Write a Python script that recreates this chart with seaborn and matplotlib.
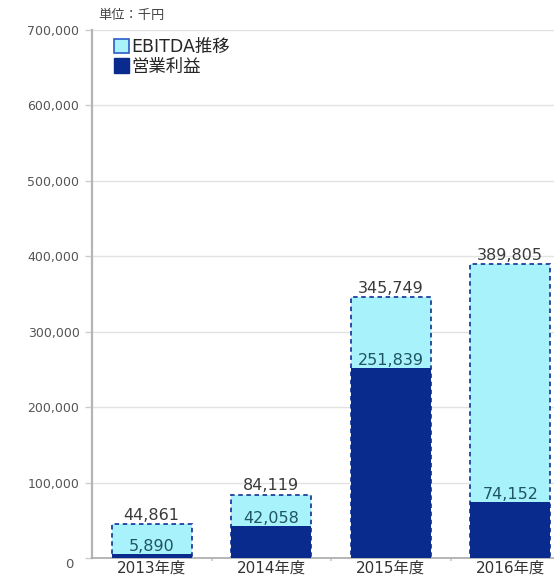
import matplotlib
matplotlib.use("Agg")
import matplotlib.pyplot as plt
from matplotlib.patches import Patch
import pandas as pd
import seaborn as sns

# Fiscal years and values (unit: thousand yen)
years = ["2013年度", "2014年度", "2015年度", "2016年度"]
ebitda = [44861, 84119, 345749, 389805]
operating_profit = [5890, 42058, 251839, 74152]
y_ticks = [0, 100000, 200000, 300000, 400000, 500000, 600000, 700000]

sns.set_theme(style="white")
plt.rcParams["font.family"] = ["DejaVu Sans", "Noto Sans CJK JP"]

CYAN = "#a8f2fc"
NAVY = "#0a2b8e"
EDGE = "#1d3f9e"

df = pd.DataFrame({"year": years, "ebitda": ebitda, "op": operating_profit})

fig = plt.figure(figsize=(5.54, 5.80), dpi=100)
ax = fig.add_axes([92 / 554, 1 - 558 / 580, 478 / 554, 528 / 580])

# EBITDA bars (light fill, dashed outline)
sns.barplot(data=df, x="year", y="ebitda", color=CYAN, saturation=1,
            width=0.67, errorbar=None, ax=ax,
            edgecolor=EDGE, linewidth=1.3, linestyle=(0, (2.5, 2)), zorder=2)
# Operating profit bars drawn over them
sns.barplot(data=df, x="year", y="op", color=NAVY, saturation=1,
            width=0.67, errorbar=None, ax=ax, linewidth=0, zorder=3)

ax.set_xlim(-0.5, 3.5)
ax.set_ylim(0, 700000)
ax.set_xlabel("")
ax.set_ylabel("")

# Value labels
for i, (e, o) in enumerate(zip(ebitda, operating_profit)):
    ax.annotate(f"{e:,}", xy=(i, e), xytext=(0, 1), textcoords="offset points",
                ha="center", va="bottom", fontsize=11.5, color="#3a3a3a", zorder=5)
    ax.annotate(f"{o:,}", xy=(i, o), xytext=(0, 0), textcoords="offset points",
                ha="center", va="bottom", fontsize=11.5, color="#1f5560", zorder=5)

# Axes styling
ax.set_yticks(y_ticks)
ax.set_yticklabels([""] + [f"{v:,}" for v in y_ticks[1:]])
ax.annotate("0", xy=(0, 0), xycoords=("axes fraction", "data"),
            xytext=(-16, -5), textcoords="offset points",
            ha="center", va="center", fontsize=9.5, color="#555555")
ax.tick_params(axis="y", length=5, width=1, color="#cccccc",
               labelsize=9, labelcolor="#555555", pad=4, left=True)
ax.tick_params(axis="x", which="major", length=0, labelsize=11,
               labelcolor="#333333", pad=2)
ax.set_xticks([0.5, 1.5, 2.5], minor=True)
ax.tick_params(axis="x", which="minor", length=2.5, width=1.2,
               color="#c8c8c8", bottom=True)

ax.grid(axis="y", color="#e2e2e2", linewidth=1, zorder=0)
ax.grid(axis="x", visible=False)
ax.set_axisbelow(True)
for side in ("top", "right"):
    ax.spines[side].set_visible(False)
ax.spines["left"].set_color("#b5b5b5")
ax.spines["left"].set_linewidth(1.6)
ax.spines["bottom"].set_color("#aaaaaa")
ax.spines["bottom"].set_linewidth(1.2)

handles = [Patch(facecolor=CYAN, edgecolor="#2a5cc8", linewidth=1.2),
           Patch(facecolor=NAVY, edgecolor=NAVY)]
ax.legend(handles, ["EBITDA推移", "営業利益"], loc="upper left",
          bbox_to_anchor=(0.045, 0.985), frameon=False, fontsize=12.5,
          handlelength=0.9, handleheight=0.9, handletextpad=0.15,
          labelspacing=0.1, borderaxespad=0, borderpad=0)

fig.text(98 / 554, 1 - 15 / 580, "単位：千円", ha="left", va="center",
         fontsize=9.5, color="#444444")

fig.savefig("out.png", dpi=100)
